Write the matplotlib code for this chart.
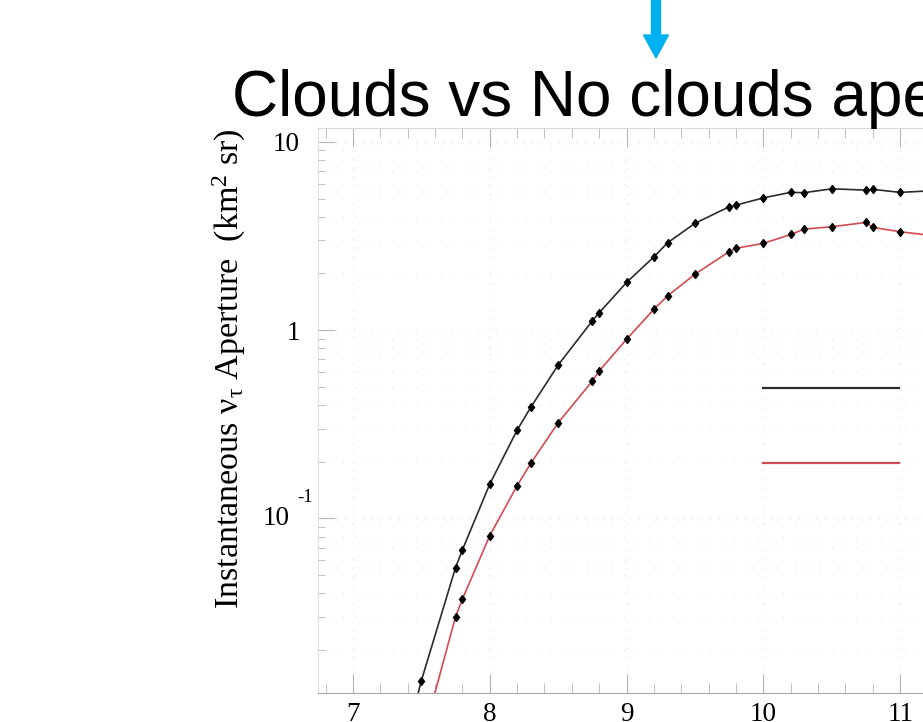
import matplotlib
matplotlib.use("Agg")
import matplotlib.pyplot as plt
from matplotlib.patches import FancyArrow
from matplotlib.ticker import MultipleLocator, LogLocator, NullFormatter
from matplotlib.transforms import IdentityTransform, offset_copy

# log10(E / GeV) grid and apertures (km^2 sr)
energy = [7.25, 7.5, 7.75, 7.8, 8.0, 8.2, 8.3, 8.5, 8.75, 8.8, 9.0, 9.2, 9.3,
          9.5, 9.75, 9.8, 10.0, 10.2, 10.3, 10.5, 10.75, 10.8, 11.0, 11.2]
no_clouds = [0.0027, 0.0137, 0.0547, 0.0679, 0.152, 0.294, 0.389, 0.652, 1.12,
             1.236, 1.79, 2.45, 2.91, 3.69, 4.52, 4.61, 5.04, 5.39, 5.37, 5.63,
             5.54, 5.59, 5.39, 5.48]
clouds = [0.001, 0.0064, 0.030, 0.0372, 0.0809, 0.149, 0.196, 0.322, 0.536,
          0.606, 0.894, 1.29, 1.52, 1.98, 2.61, 2.72, 2.89, 3.22, 3.44, 3.54,
          3.73, 3.51, 3.33, 3.2]
series_labels = ["No clouds", "Clouds"]

TITLE = "Clouds vs No clouds aperture"
SERIF = "Liberation Serif"

plt.rcParams["mathtext.fontset"] = "custom"
plt.rcParams["mathtext.rm"] = SERIF
plt.rcParams["mathtext.it"] = SERIF + ":italic"

W, H = 923, 722
fig = plt.figure(figsize=(W / 100, H / 100), dpi=100)

# axes runs past the right edge, like the cropped slide
ax = fig.add_axes([318 / W, 29.3 / H, 719 / W, 564.4 / H])

ax.plot(energy, no_clouds, color="#2b2b2b", lw=1.2, marker="d", ms=4.5,
        mfc="black", mec="black", label=series_labels[0])
ax.plot(energy, clouds, color="#d24b52", lw=1.2, marker="d", ms=4.5,
        mfc="black", mec="black", label=series_labels[1])

ax.set_yscale("log")
ax.set_xlim(6.745, 12.0)
ax.set_ylim(0.01186, 11.8)

ax.xaxis.set_major_locator(MultipleLocator(1))
ax.xaxis.set_minor_locator(MultipleLocator(0.2))
ax.yaxis.set_major_locator(LogLocator(base=10, numticks=10))
ax.yaxis.set_minor_locator(LogLocator(base=10, subs=range(2, 10), numticks=20))
ax.yaxis.set_minor_formatter(NullFormatter())
ax.set_yticks([0.1, 1, 10])
ax.set_yticklabels(["", "1", "10"])

tick_col = "#b5b5b5"
ax.tick_params(which="both", direction="in", color=tick_col, top=True, right=True,
               labelsize=19.5, labelfontfamily=SERIF)
ax.tick_params(axis="x", which="major", length=14, pad=7)
ax.tick_params(axis="x", which="minor", length=7)
ax.tick_params(axis="y", which="major", length=12, pad=13)
ax.tick_params(axis="y", which="minor", length=5)

# 10^-1 label drawn like the original, with a detached exponent
base_tr = offset_copy(ax.get_yaxis_transform(), fig=fig, x=-28, y=0, units="dots")
ax.text(0, 0.1, "10", transform=base_tr, ha="right", va="center",
        fontsize=19.5, family=SERIF)
exp_tr = offset_copy(ax.get_yaxis_transform(), fig=fig, x=-5, y=21, units="dots")
ax.text(0, 0.1, "-1", transform=exp_tr, ha="right", va="center",
        fontsize=13.5, family=SERIF)

ax.grid(True, which="major", color="#dedede", lw=0.8, ls=(0, (1, 7)))
ax.grid(True, which="minor", axis="y", color="#e6e6e6", lw=0.8, ls=(0, (1, 10)))

ax.spines["left"].set_color("#e2e2e2")
ax.spines["top"].set_color("#d8d8d8")
ax.spines["right"].set_color("#d8d8d8")
ax.spines["bottom"].set_color("#a8a8a8")

ax.set_ylabel("Instantaneous ν$_{\\mathrm{τ}}$ Aperture  (km$^{\\mathrm{2}}$ sr)",
              fontsize=24.5, family=SERIF)
ax.yaxis.set_label_coords(-0.097, 0.5735)

leg = ax.legend(loc="upper left", bbox_to_anchor=(0.619, 0.560), frameon=False,
                handlelength=4.45, labelspacing=1.5, borderpad=0,
                borderaxespad=0, handletextpad=0.8, prop={"family": SERIF, "size": 22})
for line in leg.get_lines():
    line.set_marker("")
    line.set_linewidth(1.6)

fig.text(232 / W, (H - 116) / H, TITLE, fontsize=46, family="Liberation Sans",
         va="baseline", ha="left")

fig.add_artist(FancyArrow(656, H + 10, 0, -68, width=9, head_width=25,
                          head_length=23, length_includes_head=True,
                          color="#00b0f0", transform=IdentityTransform()))

fig.savefig("out.png", dpi=100)
